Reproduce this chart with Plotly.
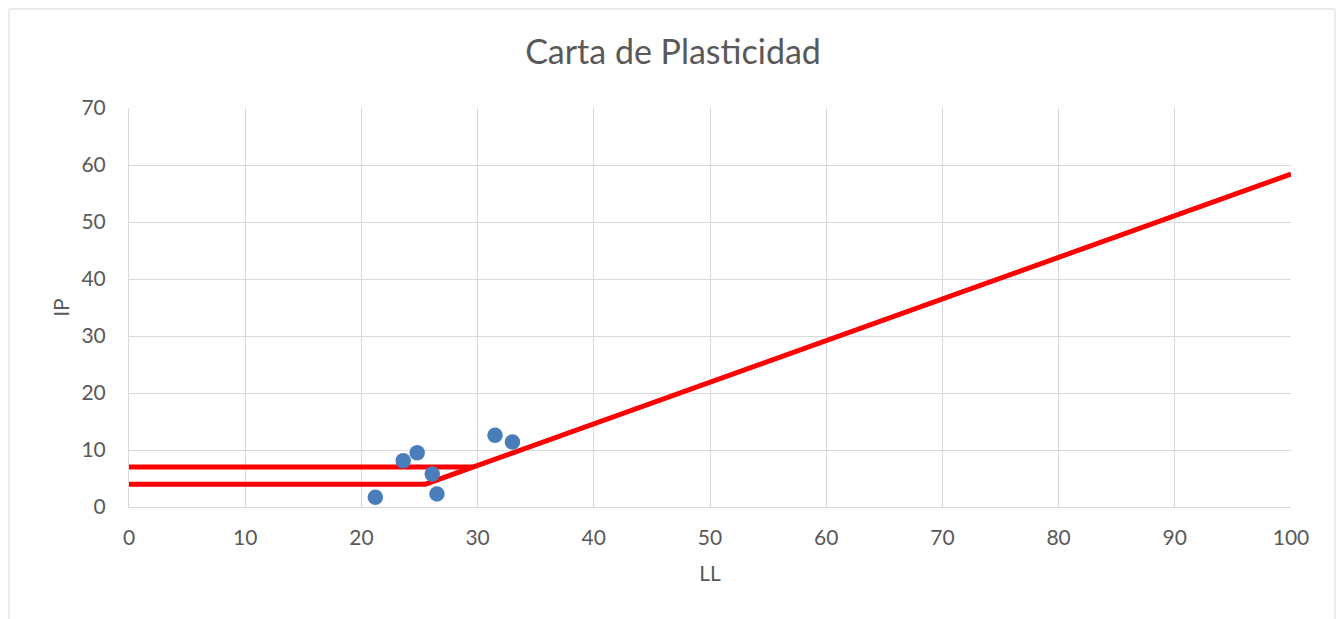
import plotly.graph_objects as go

# Data points (LL, IP)
ll_points = [21.2, 23.6, 24.8, 26.1, 26.5, 31.5, 33.0]
ip_points = [1.7, 8.1, 9.5, 5.8, 2.3, 12.6, 11.4]

# Line A (lower line) and upper limit line
lineA_x = [0, 25.5, 100]
lineA_y = [4, 4, 58.4]
lineB_x = [0, 29.6]
lineB_y = [7, 7]

x_ticks = [0, 10, 20, 30, 40, 50, 60, 70, 80, 90, 100]
y_ticks = [0, 10, 20, 30, 40, 50, 60, 70]

font_fam = "Lato, 'Liberation Sans', sans-serif"
grey = "#595959"

W, H = 1336, 611
OFF = 8  # page body offset

fig = go.Figure()
fig.add_trace(go.Scatter(x=lineA_x, y=lineA_y, mode="lines",
                         line=dict(color="#FF0000", width=5), showlegend=False))
fig.add_trace(go.Scatter(x=lineB_x, y=lineB_y, mode="lines",
                         line=dict(color="#FF0000", width=5), showlegend=False))
fig.add_trace(go.Scatter(x=ll_points, y=ip_points, mode="markers",
                         marker=dict(color="#4A7EBB", size=15.5), showlegend=False))

fig.update_layout(
    width=W, height=H,
    margin=dict(l=129 - OFF, r=(OFF + W) - 1291, t=108 - OFF, b=(OFF + H) - 507),
    paper_bgcolor="white", plot_bgcolor="white",
    title=dict(text="Carta de Plasticidad", x=(673 - OFF) / W, xanchor="center",
               y=1 - (52 - OFF) / H, yanchor="middle",
               font=dict(family=font_fam, size=34, color=grey)),
    font=dict(family=font_fam, color=grey),
    xaxis=dict(range=[0, 100], tickvals=x_ticks, showgrid=True,
               gridcolor="#D9D9D9", gridwidth=1, zeroline=False,
               showline=True, linecolor="#D9D9D9", linewidth=1,
               tickfont=dict(size=21, color=grey), ticks="", ticklabelstandoff=12,
               title=dict(text="LL", font=dict(size=21, color=grey), standoff=18)),
    yaxis=dict(range=[0, 70], tickvals=y_ticks, showgrid=True,
               gridcolor="#D9D9D9", gridwidth=1, zeroline=False,
               showline=True, linecolor="#D9D9D9", linewidth=1,
               tickfont=dict(size=21, color=grey), ticks="", ticklabelstandoff=18,
               title=dict(text="IP", font=dict(size=21, color=grey), standoff=6)),
    shapes=[dict(type="rect", xref="paper", yref="paper",
                 x0=(9 - 129) / 1162, x1=(1335 - 129) / 1162,
                 y0=-0.4, y1=(507 - 9) / 399,
                 line=dict(color="#D9D9D9", width=1), fillcolor="rgba(0,0,0,0)",
                 layer="below")],
)

fig.write_html("out.html")
